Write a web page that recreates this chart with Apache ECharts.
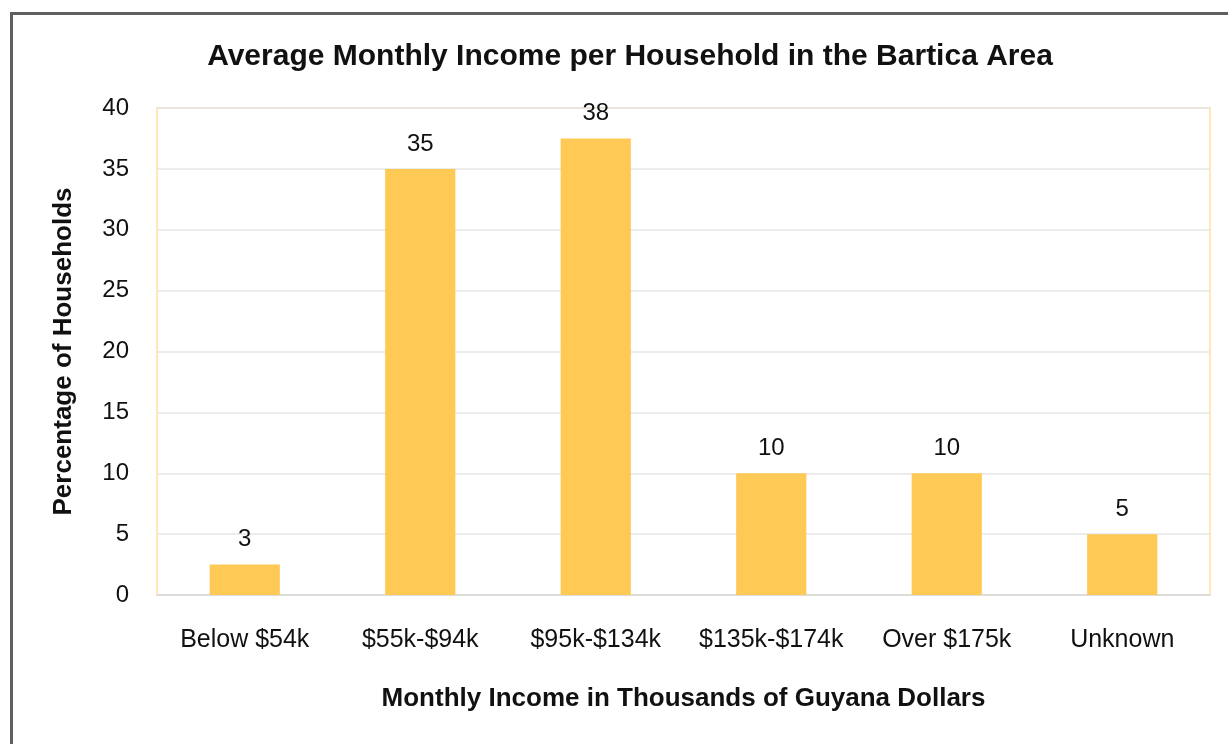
<!DOCTYPE html>
<html><head><meta charset="utf-8">
<script src="https://cdn.jsdelivr.net/npm/echarts@6/dist/echarts.min.js"></script>
<style>html,body{margin:0;padding:0;background:#fff}#c{width:1228px;height:744px}</style>
</head><body><div id="c"></div>
<script>
const categories = ['Below $54k', '$55k-$94k', '$95k-$134k', '$135k-$174k', 'Over $175k', 'Unknown'];
const values = [2.5, 35, 37.5, 10, 10, 5];
const yTicks = [0, 5, 10, 15, 20, 25, 30, 35, 40];
const titleText = 'Average Monthly Income per Household in the Bartica Area';
const xName = 'Monthly Income in Thousands of Guyana Dollars';
const yName = 'Percentage of Households';

const FONT = "'Liberation Sans Narrow', 'Arial Narrow', 'Liberation Sans', Arial, sans-serif";
const chart = echarts.init(document.getElementById('c'));
chart.setOption({
  animation: false,
  backgroundColor: '#fff',
  graphic: [{
    type: 'rect', left: 9, top: 11, shape: {width: 1300, height: 800},
    style: {fill: 'none', stroke: '#5f5f5f', lineWidth: 3}, silent: true, z: 100
  }],
  title: {
    text: titleText, left: 625, top: 37, textAlign: 'center',
    textStyle: {fontFamily: FONT, fontSize: 30, fontWeight: 'bold', color: '#111'}
  },
  grid: {left: 157, right: 18, top: 108, bottom: 149, show: true, borderColor: '#FFDF9E', borderWidth: 1.5},
  xAxis: {
    type: 'category', data: categories,
    name: xName, nameLocation: 'middle', nameGap: 91,
    nameTextStyle: {fontFamily: FONT, fontSize: 26, fontWeight: 'bold', color: '#111'},
    axisLine: {lineStyle: {color: '#d9d9d9', width: 1.5}},
    axisTick: {show: false},
    axisLabel: {fontFamily: FONT, fontSize: 25, color: '#111', margin: 33, interval: 0, hideOverlap: false}
  },
  yAxis: {
    type: 'value', min: 0, max: 40, interval: 5,
    name: yName, nameLocation: 'middle', nameGap: 80, nameRotate: 90,
    nameTextStyle: {fontFamily: FONT, fontSize: 26, fontWeight: 'bold', color: '#111'},
    axisLine: {show: false}, axisTick: {show: false},
    splitLine: {lineStyle: {color: '#e6e6e6', width: 1.5}},
    axisLabel: {fontFamily: FONT, fontSize: 24, color: '#111', margin: 28,
      formatter: v => yTicks.includes(v) ? String(v) : ''}
  },
  series: [{
    type: 'bar', data: values, barWidth: '40%',
    itemStyle: {color: '#FFC955'},
    label: {show: true, position: 'top', distance: 13, fontFamily: FONT, fontSize: 24, color: '#111',
      formatter: p => String(Math.round(p.value))}
  }]
});
</script></body></html>
